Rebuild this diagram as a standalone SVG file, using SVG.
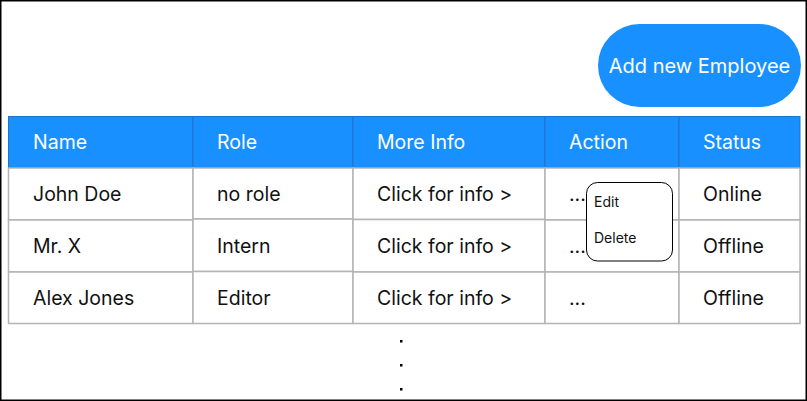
<svg xmlns="http://www.w3.org/2000/svg" width="807" height="401" viewBox="0 0 807 401">
<style>
.hd{fill:#1890ff;stroke:#1a74c9;stroke-width:1}
.cell{fill:#ffffff;stroke:#b4b4b4;stroke-width:1.5}
.ht{font-family:Inter,"Noto Sans",sans-serif;font-size:19.5px;fill:#ffffff}
.t{font-family:Inter,"Noto Sans",sans-serif;font-size:19.5px;fill:#111111}
.m{font-family:Inter,"Noto Sans",sans-serif;font-size:14px;fill:#111111}
</style>
<rect x="0.75" y="0.75" width="805.5" height="399.5" fill="#ffffff" stroke="#000000" stroke-width="1.5"/>
<g id="add-button">
<rect x="598" y="24" width="203" height="83" rx="41.5" fill="#1890ff"/>
<text x="699.5" y="73" text-anchor="middle" class="ht" style="font-size:20px">Add new Employee</text>
</g>
<g id="header">
<rect class="hd" x="8.5" y="116.5" width="184.5" height="51.5"/>
<rect class="hd" x="193" y="116.5" width="160" height="51.5"/>
<rect class="hd" x="353" y="116.5" width="192" height="51.5"/>
<rect class="hd" x="545" y="116.5" width="134" height="51.5"/>
<rect class="hd" x="679" y="116.5" width="121" height="51.5"/>
<text class="ht" x="33" y="148.5">Name</text>
<text class="ht" x="217" y="148.5">Role</text>
<text class="ht" x="377" y="148.5">More Info</text>
<text class="ht" x="569" y="148.5">Action</text>
<text class="ht" x="703" y="148.5">Status</text>
</g>
<g id="row1">
<rect class="cell" x="8.5" y="168" width="184.5" height="52"/>
<rect class="cell" x="193" y="168" width="160" height="51"/>
<rect class="cell" x="353" y="168" width="192" height="51.5"/>
<rect class="cell" x="545" y="168" width="134" height="52"/>
<rect class="cell" x="679" y="168" width="121" height="52"/>
<text class="t" x="33" y="201">John Doe</text>
<text class="t" x="217" y="201">no role</text>
<text class="t" x="377" y="201">Click for info &gt;</text>
<text class="t" x="569" y="201">...</text>
<text class="t" x="703" y="201">Online</text>
</g>
<g id="row2">
<rect class="cell" x="8.5" y="220" width="184.5" height="52"/>
<rect class="cell" x="193" y="219" width="160" height="52.5"/>
<rect class="cell" x="353" y="219.5" width="192" height="52.5"/>
<rect class="cell" x="545" y="220" width="134" height="52"/>
<rect class="cell" x="679" y="220" width="121" height="52"/>
<text class="t" x="33" y="253">Mr. X</text>
<text class="t" x="217" y="253">Intern</text>
<text class="t" x="377" y="253">Click for info &gt;</text>
<text class="t" x="569" y="253">...</text>
<text class="t" x="703" y="253">Offline</text>
</g>
<g id="row3">
<rect class="cell" x="8.5" y="272" width="184.5" height="51.5"/>
<rect class="cell" x="193" y="271.5" width="160" height="52"/>
<rect class="cell" x="353" y="272" width="192" height="51.5"/>
<rect class="cell" x="545" y="272" width="134" height="51.5"/>
<rect class="cell" x="679" y="272" width="121" height="51.5"/>
<text class="t" x="33" y="305">Alex Jones</text>
<text class="t" x="217" y="305">Editor</text>
<text class="t" x="377" y="305">Click for info &gt;</text>
<text class="t" x="569" y="305">...</text>
<text class="t" x="703" y="305">Offline</text>
</g>
<g id="action-menu">
<rect x="586.5" y="182.5" width="86" height="78.5" rx="11" fill="#ffffff" stroke="#000000" stroke-width="1"/>
<text class="m" x="594" y="207">Edit</text>
<text class="m" x="594" y="243">Delete</text>
</g>
<g id="more-dots" fill="#000000">
<rect x="400" y="340" width="2.5" height="2.5"/>
<rect x="400" y="364" width="2.5" height="2.5"/>
<rect x="400" y="388" width="2.5" height="2.5"/>
</g>
</svg>
